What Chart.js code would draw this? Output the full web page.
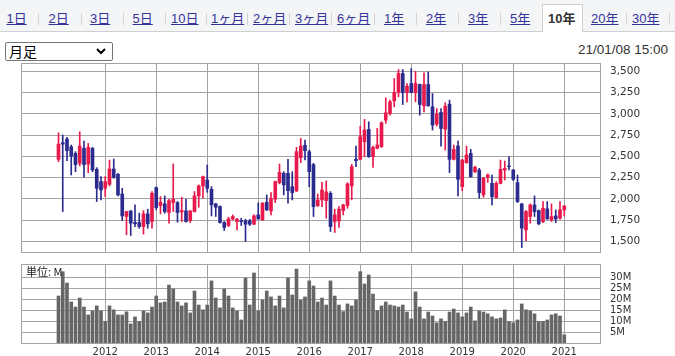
<!DOCTYPE html>
<html><head><meta charset="utf-8">
<script src="https://cdn.jsdelivr.net/npm/chart.js@4.4.1/dist/chart.umd.min.js"></script>
<style>
html,body{margin:0;padding:0;}
body{width:675px;height:356px;position:relative;overflow:hidden;background:#fff;font-family:"Liberation Sans","Noto Sans CJK JP",Arial,sans-serif;}
#nav{position:absolute;left:0;top:0;width:675px;height:31px;background:#f4f5f7;border-bottom:1px solid #cfcfcf;}
.t{position:absolute;top:12px;font-size:13px;line-height:14px;color:#333399;text-decoration:underline;white-space:nowrap;}
.t.on{color:#333;font-weight:bold;text-decoration:none;}
.s{position:absolute;top:13px;width:1px;height:12px;background:#d3d3d3;}
#seltab{position:absolute;left:542px;top:4px;width:41px;height:28px;background:#fff;border:1px solid #cfcfcf;border-bottom:none;box-sizing:border-box;}
#box{position:absolute;left:5px;top:42px;width:108px;height:19px;border:1px solid #767676;border-radius:2px;box-sizing:border-box;background:#fff;}
#box span{position:absolute;left:3px;top:0px;font-size:14px;line-height:17px;color:#000;font-family:"Noto Sans CJK JP",sans-serif;}
#box svg{position:absolute;right:6px;top:5px;}
#stamp{position:absolute;right:7px;top:42px;font-size:13.5px;line-height:16px;color:#333;}
canvas{position:absolute;left:0;}
#unit{position:absolute;left:26px;top:265px;font-size:11px;line-height:12px;color:#222;font-family:"Noto Sans CJK JP","DejaVu Sans",sans-serif;}
</style></head>
<body>
<div id="nav">
  <div id="seltab"></div>
  <span class="t" style="left:6.5px">1日</span>
  <span class="t" style="left:48.6px">2日</span>
  <span class="t" style="left:90px">3日</span>
  <span class="t" style="left:132.6px">5日</span>
  <span class="t" style="left:171px">10日</span>
  <span class="t" style="left:211px">1ヶ月</span>
  <span class="t" style="left:253px">2ヶ月</span>
  <span class="t" style="left:295px">3ヶ月</span>
  <span class="t" style="left:337px">6ヶ月</span>
  <span class="t" style="left:384px">1年</span>
  <span class="t" style="left:426px">2年</span>
  <span class="t" style="left:468px">3年</span>
  <span class="t" style="left:510px">5年</span>
  <span class="t on" style="left:548px">10年</span>
  <span class="t" style="left:591px">20年</span>
  <span class="t" style="left:632px">30年</span>
  <i class="s" style="left:38px"></i><i class="s" style="left:81px"></i><i class="s" style="left:123px"></i>
  <i class="s" style="left:165px"></i><i class="s" style="left:206px"></i><i class="s" style="left:247px"></i>
  <i class="s" style="left:289px"></i><i class="s" style="left:331px"></i><i class="s" style="left:374px"></i>
  <i class="s" style="left:416px"></i><i class="s" style="left:458px"></i><i class="s" style="left:500px"></i>
  <i class="s" style="left:626px"></i><i class="s" style="left:669px"></i>
</div>
<div id="box"><span>月足</span><svg width="10" height="7" viewBox="0 0 10 7"><polyline points="1,1 5,5 9,1" fill="none" stroke="#000" stroke-width="2"/></svg></div>
<div id="stamp">21/01/08 15:00</div>
<canvas id="price" width="675" height="209" style="top:53px"></canvas>
<canvas id="vol" width="675" height="102" style="top:254px"></canvas>
<div id="unit">単位: M</div>
<script>
const months = [
 '2011/02','2011/03','2011/04','2011/05','2011/06','2011/07','2011/08','2011/09','2011/10','2011/11','2011/12',
 '2012/01','2012/02','2012/03','2012/04','2012/05','2012/06','2012/07','2012/08','2012/09','2012/10','2012/11','2012/12',
 '2013/01','2013/02','2013/03','2013/04','2013/05','2013/06','2013/07','2013/08','2013/09','2013/10','2013/11','2013/12',
 '2014/01','2014/02','2014/03','2014/04','2014/05','2014/06','2014/07','2014/08','2014/09','2014/10','2014/11','2014/12',
 '2015/01','2015/02','2015/03','2015/04','2015/05','2015/06','2015/07','2015/08','2015/09','2015/10','2015/11','2015/12',
 '2016/01','2016/02','2016/03','2016/04','2016/05','2016/06','2016/07','2016/08','2016/09','2016/10','2016/11','2016/12',
 '2017/01','2017/02','2017/03','2017/04','2017/05','2017/06','2017/07','2017/08','2017/09','2017/10','2017/11','2017/12',
 '2018/01','2018/02','2018/03','2018/04','2018/05','2018/06','2018/07','2018/08','2018/09','2018/10','2018/11','2018/12',
 '2019/01','2019/02','2019/03','2019/04','2019/05','2019/06','2019/07','2019/08','2019/09','2019/10','2019/11','2019/12',
 '2020/01','2020/02','2020/03','2020/04','2020/05','2020/06','2020/07','2020/08','2020/09','2020/10','2020/11','2020/12',
 '2021/01'];
const open = [
 2465,2660,2703,2613,2535,2418,2594,2410,2594,2347,2203,
 2125,2172,2351,2289,2058,1793,1859,1722,1722,1675,1824,1734,
 2133,1922,1941,1840,1957,1957,1847,1859,1746,1851,2035,2152,
 2222,2113,1941,1910,1722,1687,1765,1734,1746,1742,1742,1703,
 1812,1754,1961,1859,1996,2191,2301,2301,2144,2094,2484,2629,
 2555,2402,1922,1988,1980,2066,1734,1742,1863,1922,2152,2465,
 2465,2672,2816,2496,2594,2613,2926,3004,3152,3250,3473,3250,
 3356,3250,3344,3094,3344,3082,2879,3016,2820,3113,2465,2621,
 2144,2426,2535,2320,2340,2047,2254,2183,2015,2183,2340,2387,
 2340,2191,1941,1636,1793,1929,1863,1734,1883,1754,1800,1773,
 1871];
const high = [
 2777,2750,2723,2633,2555,2789,2680,2652,2605,2367,2262,
 2262,2457,2469,2301,2125,1855,1862,1929,1832,1863,1879,2086,
 2140,2027,2035,1996,2410,1969,2019,1996,1863,2086,2164,2269,
 2398,2144,1949,1918,1734,1785,1812,1773,1773,1761,1761,1812,
 1953,1957,2047,2074,2210,2410,2320,2465,2320,2605,2711,2691,
 2574,2418,2058,2195,2211,2086,1879,1910,1937,2191,2406,2621,
 2855,2934,2906,2621,2828,2906,3188,3160,3414,3520,3520,3356,
 3531,3500,3350,3481,3492,3238,3062,3062,3129,3160,2633,2680,
 2465,2621,2582,2387,2359,2254,2293,2281,2203,2457,2445,2496,
 2347,2281,1949,1863,1941,2035,1871,1969,1969,1941,1871,1969,
 1920];
const low = [
 2437,1851,2449,2281,2320,2387,2254,2308,2320,1969,1988,
 2027,2152,2242,2035,1746,1578,1570,1675,1655,1586,1655,1655,
 1871,1824,1832,1715,1851,1726,1734,1726,1722,1845,1902,2008,
 2078,1800,1793,1715,1629,1675,1754,1636,1687,1500,1687,1698,
 1761,1746,1863,1812,1957,2176,2047,1949,1988,2086,2426,2457,
 2144,1793,1910,1910,1773,1617,1605,1664,1812,1890,1988,2379,
 2457,2496,2488,2371,2588,2605,2887,2984,3082,3199,3109,3141,
 3245,3141,2984,3023,3088,2809,2855,2621,2574,2308,2457,2035,
 2097,2418,2254,2308,2008,2019,2195,1929,2008,2176,2222,2340,
 2215,1957,1429,1508,1715,1793,1695,1722,1760,1734,1722,1761,
 1800];
const close = [
 2644,2644,2566,2504,2402,2621,2402,2605,2340,2125,2105,
 2203,2351,2254,2047,1800,1851,1715,1707,1675,1824,1707,2066,
 1898,1961,1851,1980,1996,1840,1863,1734,1859,2035,2152,2262,
 2125,1929,1902,1722,1664,1765,1793,1761,1734,1703,1703,1800,
 1765,1949,1871,2000,2203,2312,2164,2097,2074,2555,2621,2566,
 2320,1910,1988,2105,2082,1675,1812,1879,1929,2176,2379,2449,
 2730,2809,2496,2605,2633,2894,3012,3141,3250,3473,3250,3324,
 3250,3356,3109,3344,3094,2867,2996,2828,3090,2465,2582,2230,
 2457,2516,2262,2371,2074,2242,2281,2027,2183,2347,2359,2379,
 2230,1969,1656,1851,1929,1851,1707,1890,1765,1793,1765,1871,
 1918];
const volume = [
 21.4,32.5,27.3,18.7,16.4,20.5,16.4,12.8,14.6,16.9,14.6,
 9.8,16.9,15.1,12.8,12.8,14.2,8.7,11.9,9.8,14.6,13.7,16.4,
 21.4,18.3,18.7,26.4,24.6,18.7,16.9,18.3,13.7,23.7,17.3,15.1,
 17.3,28.3,20.5,16.0,24.6,21.4,16.0,14.6,10.5,29.6,17.3,31.9,
 14.6,19.6,23.7,21.0,16.9,21.4,16.0,29.6,21.9,33.7,19.6,21.0,
 28.3,26.0,18.7,20.5,17.3,28.3,21.4,17.3,14.3,17.8,16.9,19.6,
 32.5,26.9,31.0,22.3,14.8,16.9,18.7,17.3,16.9,16.4,17.3,14.1,
 11.0,23.3,16.4,11.0,14.1,12.3,9.2,11.0,9.8,14.1,15.5,13.7,
 11.9,13.7,16.4,10.1,14.6,14.1,13.3,11.9,11.0,11.4,15.1,9.8,
 9.2,10.5,17.8,15.1,14.6,13.3,9.8,9.8,10.5,12.8,13.3,12.3,
 3.7];
const priceTicks = [1500,1750,2000,2250,2500,2750,3000,3250,3500];
const volumeTicks = [5,10,15,20,25,30];
const yearLabels = ['2012','2013','2014','2015','2016','2017','2018','2019','2020','2021'];
const yearTickIndex = yearLabels.map(y => months.indexOf(y + '/01'));

Chart.defaults.font.family = "'DejaVu Sans', Verdana, sans-serif";
Chart.defaults.color = '#333';
const RED = '#e8194b', BLUE = '#2b2b8f', GRID = '#a3a3a3', VOL = '#666666';
const XMIN = -8.82, XMAX = 127.41;
const frame = {id:'frame', afterDraw(c){
  const {ctx, chartArea:a} = c; ctx.save(); ctx.strokeStyle = GRID; ctx.lineWidth = 1;
  ctx.strokeRect(Math.round(a.left)+0.5, Math.round(a.top)+0.5, Math.round(a.right-a.left), Math.round(a.bottom-a.top));
  ctx.restore(); }};
const colorOf = ctx => close[ctx.dataIndex] >= open[ctx.dataIndex] ? RED : BLUE;
const yFit = s => { s.width = 60; s.paddingTop = 0; s.paddingBottom = 0; };
const common = {responsive:false, animation:false, devicePixelRatio:1,
  plugins:{legend:{display:false}, tooltip:{enabled:false}}};

new Chart(document.getElementById('price'), {
  type:'bar',
  data:{datasets:[
    {data: months.map((m,i)=>({x:i, y:[low[i], high[i]]})), barThickness:1, backgroundColor:colorOf, grouped:false, order:2},
    {data: months.map((m,i)=>({x:i, y:[open[i], close[i]]})), barThickness:3, backgroundColor:colorOf, grouped:false, order:1}
  ]},
  options:{...common,
    layout:{padding:{left:21, right:15, top:10, bottom:10}},
    scales:{
      x:{type:'linear', min:XMIN, max:XMAX, offset:false,
        grid:{color:GRID, drawTicks:false, offset:false}, border:{display:false},
        ticks:{display:false},
        afterBuildTicks: s => { s.ticks = yearTickIndex.map(v=>({value:v})); },
        afterFit: s => { s.height = 0; s.paddingLeft = 0; s.paddingRight = 0; }},
      y:{position:'right', min:1376, max:3597,
        grid:{color:GRID, drawTicks:false}, border:{display:false},
        ticks:{padding:10, font:{size:10.5}, callback: v => Number(v).toLocaleString('en-US')},
        afterBuildTicks: s => { s.ticks = priceTicks.map(v=>({value:v})); },
        afterFit: yFit}
    }},
  plugins:[frame]
});

new Chart(document.getElementById('vol'), {
  type:'bar',
  data:{datasets:[
    {data: months.map((m,i)=>({x:i, y:volume[i]})), barThickness:3, backgroundColor:VOL}
  ]},
  options:{...common,
    layout:{padding:{left:21, right:15, top:10, bottom:0}},
    scales:{
      x:{type:'linear', min:XMIN, max:XMAX, offset:false,
        grid:{color:GRID, drawTicks:false, offset:false}, border:{display:false},
        ticks:{padding:3, font:{size:10}, autoSkip:false, maxRotation:0,
          callback: v => { const k = yearTickIndex.indexOf(v); return k >= 0 ? yearLabels[k] : ''; }},
        afterBuildTicks: s => { s.ticks = yearTickIndex.map(v=>({value:v})); },
        afterFit: s => { s.height = 13; s.paddingLeft = 0; s.paddingRight = 0; }},
      y:{position:'right', min:0, max:36,
        grid:{color:GRID, drawTicks:false}, border:{display:false},
        ticks:{padding:10, font:{size:10}, callback: v => v + 'M'},
        afterBuildTicks: s => { s.ticks = volumeTicks.map(v=>({value:v})); },
        afterFit: yFit}
    }},
  plugins:[frame]
});
</script>
</body></html>
